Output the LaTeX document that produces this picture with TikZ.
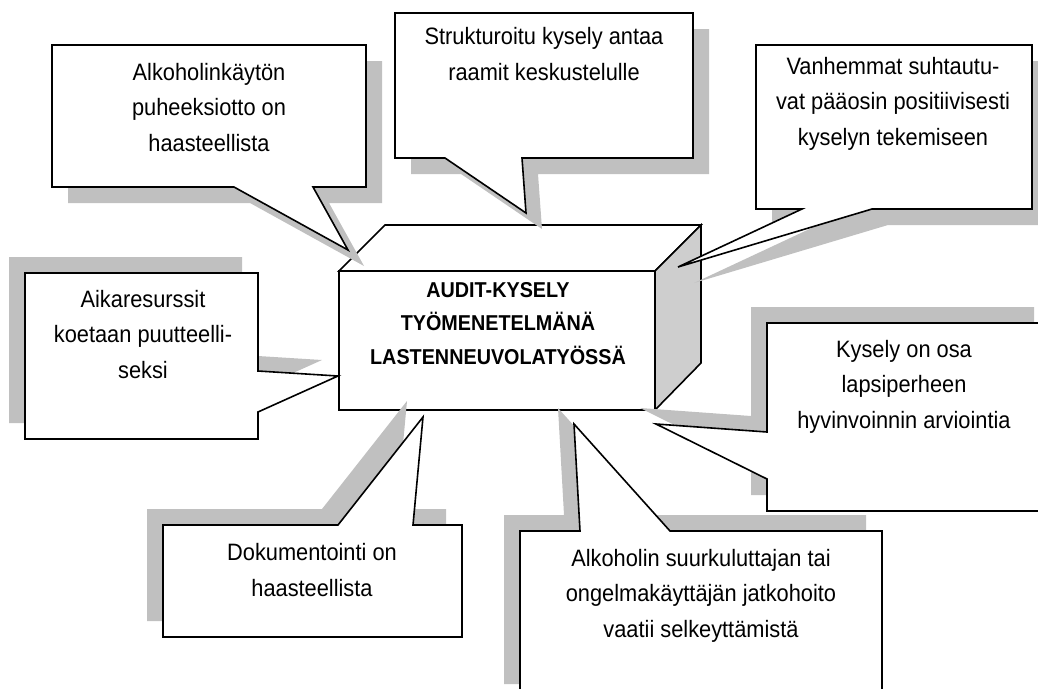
\documentclass[tikz,border=0pt]{standalone}
\usepackage{fontspec}
\setmainfont{Liberation Sans}
\newfontfamily\bubblefont[FakeStretch=0.92]{Liberation Sans}
\definecolor{shadowgray}{RGB}{192,192,192}
\definecolor{sidegray}{RGB}{206,206,206}

\tikzset{
  bubble/.style={draw=black, fill=white, line width=1.6pt, line join=miter},
  dropdown/.style={preaction={fill=shadowgray, transform canvas={shift={(16pt,-16pt)}}}},
  dropup/.style={preaction={fill=shadowgray, transform canvas={shift={(-16pt,16pt)}}}},
  bubbletext/.style={align=center, anchor=base, inner sep=0pt, font=\bubblefont\fontsize{23.7}{35.5}\selectfont},
  boxtext/.style={align=center, anchor=base, inner sep=0pt, font=\bubblefont\bfseries\fontsize{21.5}{33.5}\selectfont}
}

\begin{document}
\begin{tikzpicture}[x=1pt, y=-1pt]
\useasboundingbox (0,0) rectangle (1038,688);

\draw[bubble](339,271) -- (385,225) -- (701,225) -- (655,271) -- cycle;
\draw[bubble, fill=sidegray](655,271) -- (701,225) -- (701,363) -- (655,410) -- cycle;
\draw[bubble](339,271) rectangle (655,410);
\node[boxtext] (audit) at (498,364) {AUDIT-KYSELY\\TYÖMENETELMÄNÄ\\LASTENNEUVOLATYÖSSÄ};

\draw[bubble, dropdown](52,45) -- (366,45) -- (366,187) -- (313,187) -- (348,250) -- (234,187) -- (52,187) -- cycle;
\node[bubbletext] (puheeksiotto) at (209,151) {Alkoholinkäytön\\puheeksiotto on\\haasteellista};

\draw[bubble, dropdown](395,13) -- (693,13) -- (693,158) -- (522,158) -- (526,213) -- (445,158) -- (395,158) -- cycle;
\node[bubbletext] (raamit) at (544,80) {Strukturoitu kysely antaa\\raamit keskustelulle};

\draw[bubble, dropdown](756,45) -- (1032,45) -- (1032,209) -- (872,209) -- (678,267) -- (802,209) -- (756,209) -- cycle;
\node[bubbletext] (vanhemmat) at (893,145) {Vanhemmat suhtautu-\\vat pääosin positiivisesti\\kyselyn tekemiseen};

\draw[bubble, dropup](25,273) -- (258,273) -- (258,371) -- (338,376) -- (258,412) -- (258,439) -- (25,439) -- cycle;
\node[bubbletext] (aikaresurssit) at (143,378) {Aikaresurssit\\koetaan puutteelli-\\seksi};

\draw[bubble, dropup](767,323) -- (1050,323) -- (1050,511) -- (767,511) -- (767,479) -- (656,424) -- (767,432) -- cycle;
\node[bubbletext] (hyvinvointi) at (904,428) {Kysely on osa\\lapsiperheen\\hyvinvoinnin arviointia};

\draw[bubble, dropup](163,525) -- (338,525) -- (423,417) -- (413,525) -- (462,525) -- (462,637) -- (163,637) -- cycle;
\node[bubbletext] (dokumentointi) at (312,596) {Dokumentointi on\\haasteellista};

\draw[bubble, dropup](520,531) -- (580,531) -- (574,424) -- (670,531) -- (882,531) -- (882,700) -- (520,700) -- cycle;
\node[bubbletext] (jatkohoito) at (701,637) {Alkoholin suurkuluttajan tai\\ongelmakäyttäjän jatkohoito\\vaatii selkeyttämistä};

\end{tikzpicture}
\end{document}
